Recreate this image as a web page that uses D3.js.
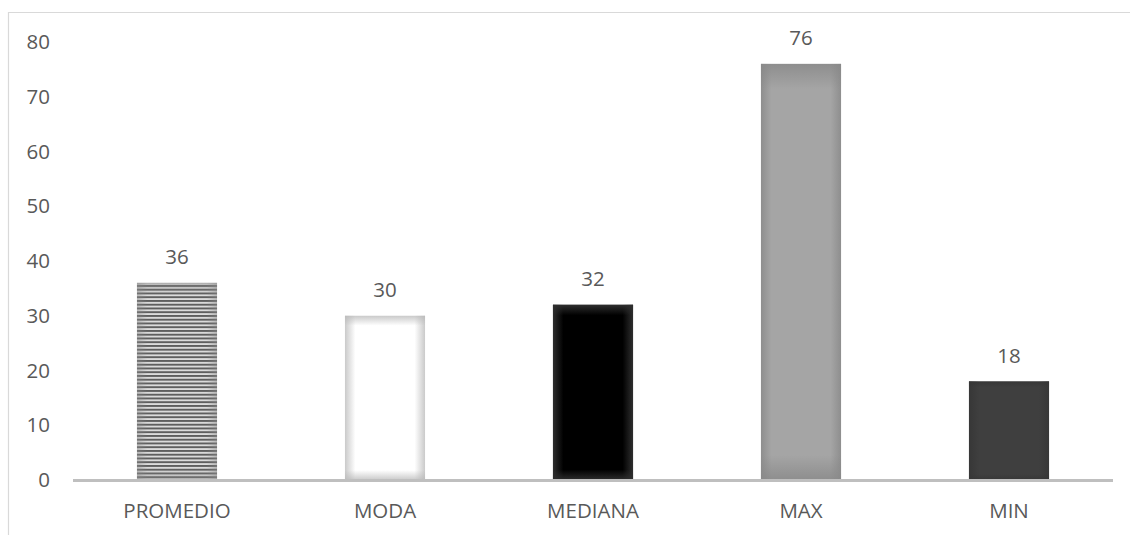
<!DOCTYPE html>
<html lang="es">
<head>
    <meta charset="UTF-8">
    <title>Estadisticos</title>
    <script src="https://d3js.org/d3.v7.min.js"></script>
    <style>
        body {
            margin: 0;
            background: #fff;
            font-family: "Open Sans", Arial, sans-serif;
        }
        .tick-label, .cat-label, .val-label {
            fill: #595959;
            font-size: 20.5px;
        }
    </style>
</head>
<body>
    <div id="chart"></div>
    <script>
        const categories = ["PROMEDIO", "MODA", "MEDIANA", "MAX", "MIN"];
        const values = [36, 30, 32, 76, 18];
        const yTicks = [0, 10, 20, 30, 40, 50, 60, 70, 80];

        // fill + edge shading for each bar
        const barStyles = [
            { fill: "url(#stripes)", edge: "#8c8c8c", edgeOp: 0.45 },
            { fill: "#ffffff", edge: "#b8b8b8", edgeOp: 0.75 },
            { fill: "#000000", edge: "#2e2e2e", edgeOp: 1 },
            { fill: "#a5a5a5", edge: "#888888", edgeOp: 0.8 },
            { fill: "#3f3f3f", edge: "#353535", edgeOp: 0.8 }
        ];

        const W = 1130, H = 535;
        const svg = d3.select("#chart").append("svg")
            .attr("width", W)
            .attr("height", H);

        const x = d3.scaleBand()
            .domain(categories)
            .range([73, 1113])
            .paddingInner(0.615)
            .paddingOuter(0.3075);

        const y = d3.scaleLinear()
            .domain([0, 80])
            .range([480, 42]);

        const defs = svg.append("defs");

        // horizontal stripes for PROMEDIO
        const pat = defs.append("pattern")
            .attr("id", "stripes")
            .attr("patternUnits", "userSpaceOnUse")
            .attr("width", 10)
            .attr("height", 3.75);
        pat.append("rect").attr("width", 10).attr("height", 3.75).attr("fill", "#dcdcdc");
        pat.append("rect").attr("width", 10).attr("height", 1.9).attr("fill", "#5e5e5e");

        // edge shading gradients
        barStyles.forEach((s, i) => {
            const gh = defs.append("linearGradient")
                .attr("id", "edgeH" + i)
                .attr("x1", 0).attr("x2", 1).attr("y1", 0).attr("y2", 0);
            [[0, s.edgeOp], [0.13, 0], [0.87, 0], [1, s.edgeOp]].forEach(([o, a]) => {
                gh.append("stop").attr("offset", o).attr("stop-color", s.edge).attr("stop-opacity", a);
            });
            const gv = defs.append("linearGradient")
                .attr("id", "edgeV" + i)
                .attr("x1", 0).attr("x2", 0).attr("y1", 0).attr("y2", 1);
            [[0, s.edgeOp], [0.06, 0], [0.94, 0], [1, s.edgeOp]].forEach(([o, a]) => {
                gv.append("stop").attr("offset", o).attr("stop-color", s.edge).attr("stop-opacity", a);
            });
        });

        // outer frame (cropped at right and bottom)
        svg.append("path")
            .attr("d", `M8.5,${H + 2}V12.5H${W + 2}`)
            .attr("fill", "none")
            .attr("stroke", "#d9d9d9")
            .attr("stroke-width", 1.2);

        // y tick labels
        svg.selectAll(".tick-label")
            .data(yTicks)
            .enter()
            .append("text")
            .attr("class", "tick-label")
            .attr("x", 50)
            .attr("y", d => y(d))
            .attr("dy", "0.35em")
            .attr("text-anchor", "end")
            .text(d => d);

        // bars
        const bars = svg.selectAll(".bar")
            .data(values)
            .enter()
            .append("g")
            .attr("class", "bar");

        bars.append("rect")
            .attr("x", (d, i) => x(categories[i]))
            .attr("y", d => y(d))
            .attr("width", x.bandwidth())
            .attr("height", d => y(0) - y(d))
            .attr("fill", (d, i) => barStyles[i].fill);

        bars.append("rect")
            .attr("x", (d, i) => x(categories[i]))
            .attr("y", d => y(d))
            .attr("width", x.bandwidth())
            .attr("height", d => y(0) - y(d))
            .attr("fill", (d, i) => `url(#edgeH${i})`);

        bars.append("rect")
            .attr("x", (d, i) => x(categories[i]))
            .attr("y", d => y(d))
            .attr("width", x.bandwidth())
            .attr("height", d => y(0) - y(d))
            .attr("fill", (d, i) => `url(#edgeV${i})`);

        // baseline
        svg.append("line")
            .attr("x1", 73)
            .attr("x2", 1113)
            .attr("y1", y(0) + 0.5)
            .attr("y2", y(0) + 0.5)
            .attr("stroke", "#bfbfbf")
            .attr("stroke-width", 3);

        // value labels
        svg.selectAll(".val-label")
            .data(values)
            .enter()
            .append("text")
            .attr("class", "val-label")
            .attr("x", (d, i) => x(categories[i]) + x.bandwidth() / 2)
            .attr("y", d => y(d) - 26)
            .attr("dy", "0.35em")
            .attr("text-anchor", "middle")
            .text(d => d);

        // category labels
        svg.selectAll(".cat-label")
            .data(categories)
            .enter()
            .append("text")
            .attr("class", "cat-label")
            .attr("x", d => x(d) + x.bandwidth() / 2)
            .attr("y", 511)
            .attr("dy", "0.35em")
            .attr("text-anchor", "middle")
            .text(d => d);
    </script>
</body>
</html>
